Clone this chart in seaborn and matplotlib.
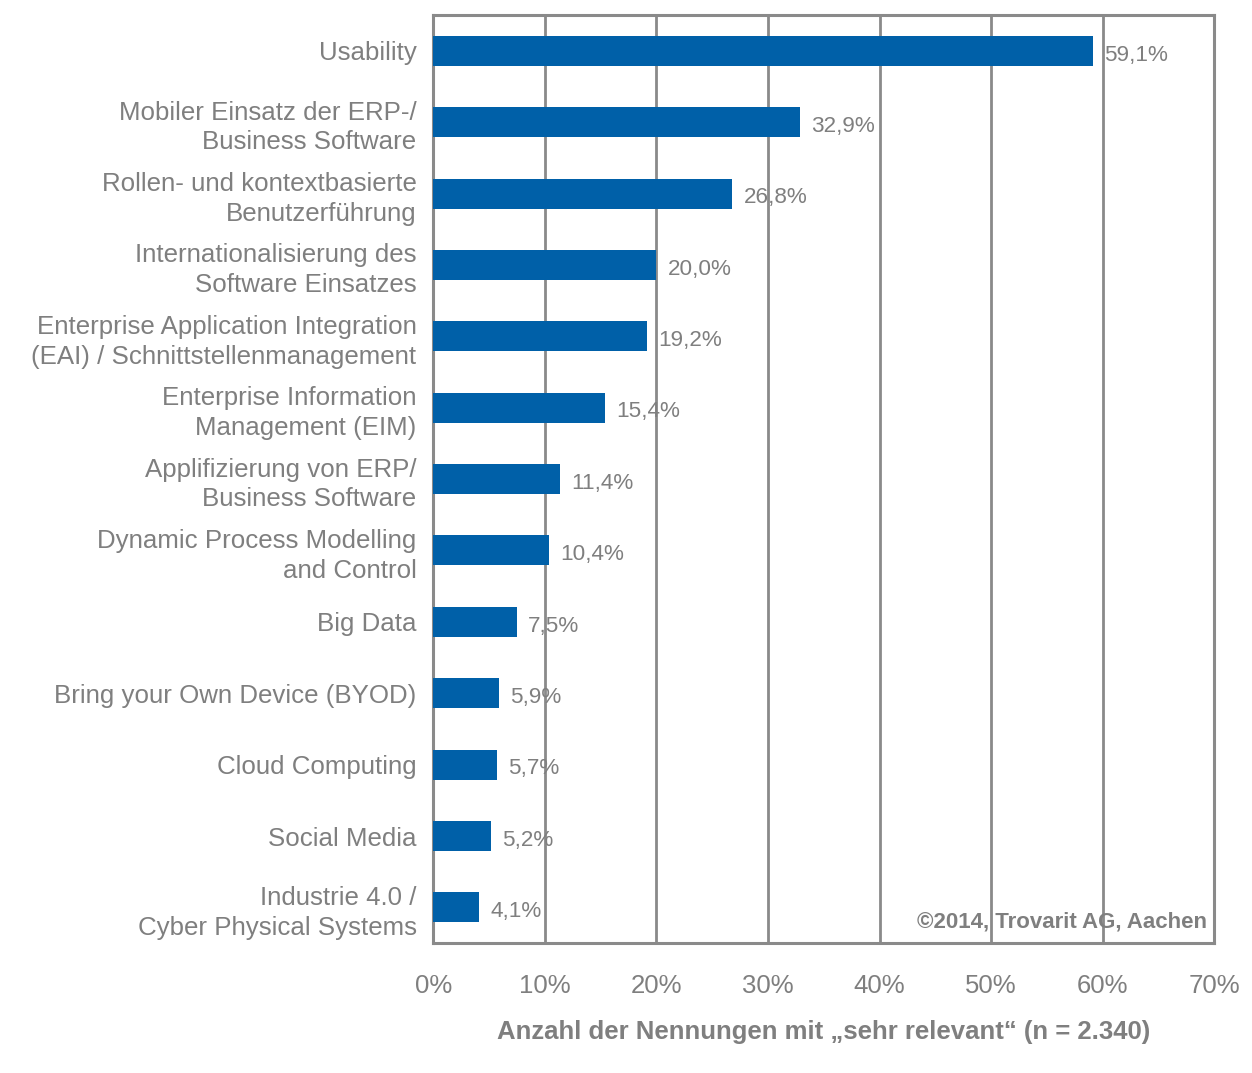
import matplotlib
matplotlib.use("Agg")
import matplotlib.pyplot as plt
import seaborn as sns
import pandas as pd
from matplotlib.ticker import FuncFormatter, MultipleLocator

categories = [
    "Usability",
    "Mobiler Einsatz der ERP-/\nBusiness Software",
    "Rollen- und kontextbasierte\nBenutzerführung",
    "Internationalisierung des\nSoftware Einsatzes",
    "Enterprise Application Integration\n(EAI) / Schnittstellenmanagement",
    "Enterprise Information\nManagement (EIM)",
    "Applifizierung von ERP/\nBusiness Software",
    "Dynamic Process Modelling\nand Control",
    "Big Data",
    "Bring your Own Device (BYOD)",
    "Cloud Computing",
    "Social Media",
    "Industrie 4.0 /\nCyber Physical Systems",
]
values = [59.1, 32.9, 26.8, 20.0, 19.2, 15.4, 11.4, 10.4, 7.5, 5.9, 5.7, 5.2, 4.1]

xlabel = "Anzahl der Nennungen mit „sehr relevant“ (n = 2.340)"
credit = "©2014, Trovarit AG, Aachen"

sns.set_theme(style="white")
plt.rcParams["font.family"] = ["Liberation Sans", "DejaVu Sans"]

gray_text = "#7f7f7f"
gray_line = "#8a8a8a"
bar_color = "#0060a8"

df = pd.DataFrame({"cat": categories, "val": values})

fig = plt.figure(figsize=(12.52, 10.73), dpi=100)
ax = fig.add_axes([0.346, 0.121, 0.624, 0.865])

sns.barplot(data=df, y="cat", x="val", orient="h", color=bar_color,
            width=0.42, saturation=1, linewidth=0, ax=ax, zorder=3)

ax.set_xlim(0, 70)
ax.set_ylim(len(categories) - 0.5, -0.5)
ax.xaxis.set_major_locator(MultipleLocator(10))
ax.xaxis.set_major_formatter(FuncFormatter(lambda v, p: f"{int(round(v))}%"))
ax.set_axisbelow(True)
ax.grid(axis="x", color=gray_line, linewidth=2)
ax.grid(axis="y", visible=False)

for s in ax.spines.values():
    s.set_visible(True)
    s.set_color(gray_line)
    s.set_linewidth(2.2)

ax.tick_params(axis="x", length=0, pad=22, labelsize=18.5, labelcolor=gray_text)
ax.tick_params(axis="y", length=0, pad=12, labelsize=18.6, labelcolor=gray_text)
for lbl in ax.get_yticklabels():
    lbl.set_horizontalalignment("right")
    lbl.set_multialignment("right")
    lbl.set_linespacing(1.3)

ax.set_ylabel("")
ax.set_xlabel(xlabel, fontsize=18.5, fontweight="bold", color=gray_text, labelpad=16)

for i, v in enumerate(values):
    ax.text(v + 1.0, i + 0.06, f"{v:.1f}".replace(".", ",") + "%",
            va="center", ha="left", fontsize=16.2, color=gray_text, zorder=4)

ax.text(0.99, 0.012, credit, transform=ax.transAxes, ha="right", va="bottom",
        fontsize=16, fontweight="bold", color=gray_text, zorder=5)

fig.savefig("out.png", dpi=100, facecolor="white")
